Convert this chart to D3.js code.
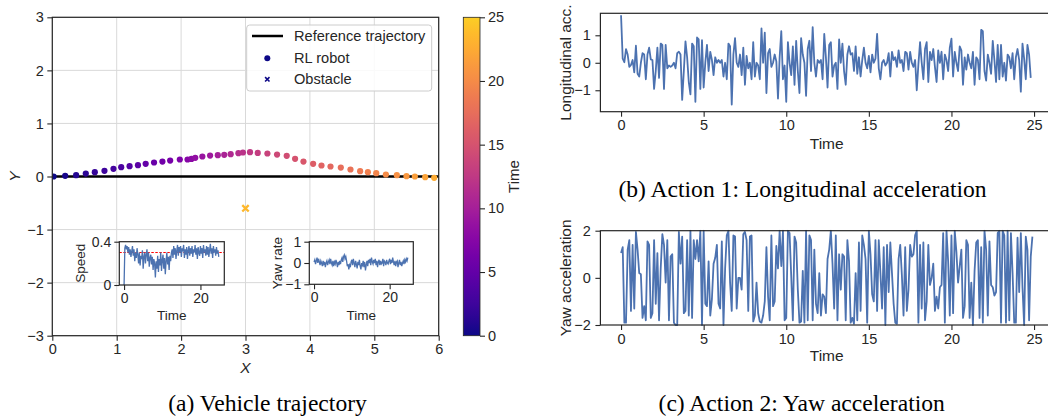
<!DOCTYPE html>
<html><head><meta charset="utf-8">
<script src="https://cdn.jsdelivr.net/npm/d3@7"></script>
<style>
body{margin:0;background:#fff}
svg{display:block}
text{font-family:"Liberation Sans",Arial,Helvetica,sans-serif;fill:#262626}
.cap{font-family:"Liberation Serif","Times New Roman",serif;fill:#000}
</style>
</head><body>
<svg id="c" width="1048" height="419"></svg>
<script>
// ---------------- data ----------------
const trajX = [0.02,0.20,0.37,0.52,0.66,0.81,0.95,1.07,1.20,1.33,1.45,1.58,1.71,1.83,1.98,2.10,2.16,2.22,2.33,2.45,2.57,2.67,2.77,2.89,2.96,3.07,3.19,3.34,3.49,3.64,3.77,3.90,4.05,4.18,4.32,4.48,4.63,4.78,4.90,5.03,5.18,5.35,5.50,5.63,5.79,5.93];
const trajY = [0.00,0.013,0.025,0.056,0.082,0.107,0.145,0.176,0.195,0.213,0.238,0.264,0.282,0.301,0.320,0.320,0.332,0.351,0.377,0.395,0.402,0.408,0.420,0.439,0.452,0.458,0.445,0.433,0.414,0.389,0.333,0.282,0.238,0.207,0.188,0.169,0.132,0.100,0.082,0.063,0.038,0.025,0.006,0.000,-0.013,-0.025];
const trajT = [0,0.5,1,1.5,2,2.5,3,3.5,4,4.5,5,5.5,6,6.5,7,7.5,8,8.5,9,9.5,10,10.5,11,11.5,12,12.5,13,13.5,14,14.5,15,15.5,16,16.5,17,17.5,18,18.5,19,19.5,20,20.5,21,21.5,22,22.5];
const refX = [0, 6];
const refY = [0, 0];
const obstacle = {x: 3.0, y: -0.6, t: 23.5};
const legendLabels = ["Reference trajectory", "RL robot", "Obstacle"];
const mainXTicks = [0,1,2,3,4,5,6];
const mainYTicks = [-3,-2,-1,0,1,2,3];
const cbarTicks = [0,5,10,15,20,25];

const speed = [0.0,0.34,0.37,0.33,0.36,0.3,0.35,0.28,0.33,0.26,
 0.31,0.36,0.27,0.33,0.22,0.3,0.25,0.34,0.28,0.2,
 0.3,0.18,0.27,0.24,0.32,0.15,0.26,0.3,0.2,0.28,
 0.33,0.22,0.3,0.17,0.25,0.28,0.19,0.26,0.14,0.24,
 0.2,0.07,0.22,0.15,0.27,0.12,0.24,0.18,0.3,0.13,
 0.23,0.28,0.15,0.25,0.1,0.22,0.3,0.19,0.26,0.14,
 0.27,0.22,0.3,0.33,0.25,0.36,0.28,0.34,0.24,0.32,
 0.37,0.27,0.35,0.3,0.36,0.26,0.34,0.31,0.37,0.25,
 0.33,0.28,0.35,0.24,0.32,0.36,0.27,0.34,0.29,0.36,
 0.26,0.33,0.3,0.37,0.28,0.34,0.24,0.35,0.3,0.27,
 0.36,0.29,0.34,0.25,0.37,0.3,0.33,0.27,0.36,0.28,
 0.35,0.26,0.32,0.38,0.29,0.34,0.25,0.36,0.3,0.33,
 0.27,0.35,0.29,0.32,0.26];
const speedRef = 0.3;
const yawRate = [0.05,0.15,-0.05,0.1,0.25,0.0,0.2,0.05,-0.1,0.1,
 0.0,-0.15,0.1,-0.05,0.05,-0.2,0.0,0.1,-0.1,0.05,
 0.15,-0.05,0.2,0.0,-0.1,0.1,-0.15,0.05,-0.05,0.15,
 0.0,-0.2,0.05,-0.1,0.1,-0.05,0.15,0.25,0.05,0.3,
 0.38,0.2,0.3,0.1,-0.15,-0.05,-0.3,-0.1,-0.2,0.05,
 0.15,-0.1,0.2,0.0,-0.2,0.1,-0.05,-0.25,0.05,-0.1,
 0.15,-0.15,-0.3,0.0,-0.1,0.1,-0.2,0.05,-0.35,-0.1,
 0.1,-0.15,0.15,0.0,0.2,-0.1,0.25,0.05,-0.05,0.15,
 0.0,0.2,-0.1,0.1,-0.2,0.05,0.15,-0.1,0.1,-0.05,
 0.0,0.2,-0.15,0.1,0.05,-0.1,0.15,0.0,-0.05,0.1,
 0.2,-0.05,0.15,0.0,0.25,0.05,-0.1,0.1,-0.15,0.05,
 0.1,-0.2,0.0,0.15,-0.1,0.05,-0.15,0.0,0.1,-0.05,
 0.15,0.05,0.2,0.1,0.25];
const insetDt = 0.2;

const lonAcc = [1.73,0.15,0.02,0.5,0.3,-0.15,-0.08,0.1,-0.35,0.62,
 -0.4,-0.5,0.0,0.35,0.3,-0.6,0.3,0.55,0.12,0.1,
 -0.95,-0.3,0.55,-0.55,0.7,0.65,-0.95,0.65,-0.2,-0.1,
 -0.15,-0.1,0.0,-0.2,0.35,0.4,0.3,-1.35,-0.3,0.78,
 0.2,-0.7,-1.15,0.7,0.6,-1.42,0.92,0.85,-0.95,0.82,
 -0.9,0.0,0.65,-0.3,0.4,0.1,-0.45,0.2,0.0,0.1,
 0.0,0.1,-0.5,0.0,-0.6,0.7,0.6,-1.52,0.3,0.9,
 0.0,-0.15,0.3,-0.45,0.55,-0.8,0.25,-0.2,0.0,-0.6,
 0.75,-0.5,0.0,-0.1,-0.6,1.25,0.0,1.1,-1.1,0.35,
 0.5,-0.15,0.0,0.3,0.05,-1.3,0.2,1.15,-0.6,-0.1,
 -1.42,0.75,0.0,-0.45,0.6,-0.8,0.8,-0.3,-1.1,0.9,
 0.3,0.0,-1.2,0.5,0.8,-0.3,1.3,0.0,-0.5,0.1,
 0.0,0.1,-0.6,1.05,0.2,-0.9,0.65,0.75,-0.5,-0.1,
 0.0,-0.95,0.85,0.0,0.7,-0.3,-0.8,0.3,0.6,0.3,
 0.35,-0.3,0.6,-0.4,0.2,-0.5,0.1,0.55,0.0,-0.2,
 0.25,-0.35,0.3,0.0,0.15,1.05,-0.2,-0.6,0.0,0.1,
 -0.1,0.0,0.35,-0.5,0.4,0.1,0.2,-0.15,0.45,0.0,
 0.1,-0.3,0.4,0.35,-0.25,0.4,0.0,-0.15,0.1,-1.0,
 -0.05,0.75,0.0,-0.6,0.5,0.75,-0.7,0.4,0.1,0.5,
 -0.15,-0.7,0.45,0.0,0.4,-0.6,0.3,0.1,-0.3,0.55,
 0.88,-0.5,0.4,0.0,-0.3,0.6,0.45,-0.8,0.2,-0.25,
 0.3,0.0,-0.2,0.4,-0.8,0.2,0.1,-0.6,1.2,1.15,
 -0.3,-0.65,0.3,0.0,-0.4,0.8,0.1,-0.7,0.65,-0.6,
 0.65,-0.5,0.0,-0.65,0.3,0.2,-0.2,0.35,-0.6,0.2,
 0.5,0.1,-1.05,0.7,0.15,-0.6,0.65,0.3,-0.55];
const yawAcc = [1.05,1.3,-1.9,-1.9,1.2,1.6,-1.4,1.4,-1.3,1.95,
 1.2,0.2,0.15,-1.7,-1.2,-1.8,1.55,1.4,-1.7,-1.5,
 1.6,-1.1,1.05,-1.8,0.4,1.85,1.4,-0.2,1.6,-1.8,
 0.9,1.0,-1.9,-2.0,-2.0,1.95,0.6,1.75,-1.5,-1.4,
 1.6,-1.6,2.0,-1.7,1.6,0.8,1.6,0.7,2.0,-2.0,
 2.0,-1.1,-1.2,0.7,-1.6,-0.9,0.6,0.85,1.4,-1.1,
 -1.3,1.55,-2.0,0.4,1.8,2.0,-0.2,-1.4,1.8,1.75,
 -1.3,0.0,0.0,-0.5,1.85,1.95,1.6,-1.4,1.75,1.8,
 -1.85,-1.6,-0.2,-1.5,-1.85,-1.9,-1.6,-1.0,1.3,-0.8,
 -1.8,1.8,-1.2,-1.0,1.35,0.4,2.0,0.5,2.0,-1.8,
 -1.7,2.0,1.9,0.1,-1.8,1.75,1.5,-0.5,-1.9,-1.85,
 0.3,-1.9,2.0,-1.8,1.8,1.6,-1.8,1.2,-1.1,-1.5,
 0.2,-1.6,-0.7,-0.8,-1.5,0.8,1.2,2.0,0.6,-1.3,
 1.8,-1.8,1.0,-0.5,1.0,0.9,-1.8,1.6,0.7,-1.9,
 -1.7,-1.95,0.2,-1.8,1.5,-1.4,1.8,1.4,0.8,-1.9,
 2.0,1.0,-0.7,-1.0,1.6,-1.4,1.6,0.2,-1.3,1.3,
 -2.0,1.4,-0.6,1.5,0.2,-1.1,-1.9,-1.95,0.8,1.4,
 0.1,-1.6,1.3,-1.4,-0.5,1.4,0.9,1.0,1.8,2.0,
 -1.9,1.4,-1.3,1.5,-1.8,-1.0,1.4,-0.3,0.0,0.6,
 -1.4,-0.8,-1.3,-0.4,-0.3,1.9,-1.9,2.0,0.7,-1.6,
 1.8,-1.5,2.0,1.1,-0.2,0.5,1.2,-1.7,-1.2,1.6,
 1.4,-1.7,-0.2,-2.0,0.3,1.5,1.6,-1.7,1.3,-1.9,
 2.0,1.2,-1.6,1.55,-0.3,-0.4,-0.75,-0.6,1.9,2.0,
 -1.9,2.0,1.8,-1.9,2.0,-1.8,1.9,0.2,-1.9,-1.9,
 1.7,-0.6,1.9,-0.4,-2.0,1.75,1.2,-1.8,0.9,1.75];
const actDt = 0.1;
const timeTicks = [0,5,10,15,20,25];

// ---------------- helpers ----------------
const svg = d3.select("#c");
const INK = "#262626";
const BLUE = "#4c72b0";
const cmap = t => d3.interpolatePlasma(0.9 * t / 25);

function styleAxis(g, fs) {
  g.select(".domain").remove();
  g.selectAll(".tick line").attr("stroke", INK).attr("stroke-width", 1.1);
  g.selectAll(".tick text").attr("fill", INK).style("font-size", fs + "px")
   .style("font-family", '"Liberation Sans",Arial,sans-serif');
}
function frame(x0, y0, x1, y1, w) {
  svg.append("rect").attr("x", x0).attr("y", y0).attr("width", x1 - x0).attr("height", y1 - y0)
    .attr("fill", "none").attr("stroke", INK).attr("stroke-width", w || 1.2);
}
function label(x, y, txt, fs, rot, italic) {
  const t = svg.append("text").attr("text-anchor", "middle").attr("dominant-baseline", "central")
    .style("font-size", fs + "px").text(txt);
  if (italic) t.style("font-style", "italic");
  if (rot) t.attr("transform", `translate(${x},${y}) rotate(${rot})`);
  else t.attr("x", x).attr("y", y);
  return t;
}

// ---------------- main plot ----------------
const M = {L: 52.3, R: 438.7, T: 17.3, B: 335.7};
const mx = d3.scaleLinear().domain([0, 6]).range([M.L, M.R]);
const my = d3.scaleLinear().domain([-3, 3]).range([M.B, M.T]);

svg.append("defs").append("clipPath").attr("id", "mclip").append("rect")
  .attr("x", M.L).attr("y", M.T).attr("width", M.R - M.L).attr("height", M.B - M.T);

const grid = svg.append("g");
mainXTicks.forEach(v => grid.append("line").attr("x1", mx(v)).attr("x2", mx(v)).attr("y1", M.T).attr("y2", M.B)
  .attr("stroke", "#d9d9d9").attr("stroke-width", 1));
mainYTicks.forEach(v => grid.append("line").attr("y1", my(v)).attr("y2", my(v)).attr("x1", M.L).attr("x2", M.R)
  .attr("stroke", "#d9d9d9").attr("stroke-width", 1));

const plotG = svg.append("g").attr("clip-path", "url(#mclip)");
plotG.append("path").datum(refX.map((x, i) => [x, refY[i]]))
  .attr("d", d3.line().x(d => mx(d[0])).y(d => my(d[1])))
  .attr("stroke", "#000").attr("stroke-width", 2.5).attr("fill", "none");
plotG.selectAll("circle.pt").data(trajX.map((x, i) => ({x, y: trajY[i], t: trajT[i]})))
  .join("circle").attr("class", "pt").attr("cx", d => mx(d.x)).attr("cy", d => my(d.y)).attr("r", 3.1)
  .attr("fill", d => cmap(d.t));
function xMark(g, cx, cy, s, col, w) {
  g.append("path").attr("d", `M${cx - s},${cy - s}L${cx + s},${cy + s}M${cx - s},${cy + s}L${cx + s},${cy - s}`)
    .attr("stroke", col).attr("stroke-width", w).attr("fill", "none");
}
xMark(plotG, mx(obstacle.x), my(obstacle.y), 3.2, cmap(obstacle.t), 2.3);

frame(M.L, M.T, M.R, M.B, 1.2);
const gx = svg.append("g").attr("transform", `translate(0,${M.B})`)
  .call(d3.axisBottom(mx).tickValues(mainXTicks).tickFormat(d3.format("d")).tickSize(5).tickPadding(3.5));
styleAxis(gx, 14.5);
const gy = svg.append("g").attr("transform", `translate(${M.L},0)`)
  .call(d3.axisLeft(my).tickValues(mainYTicks).tickFormat(d3.format("d")).tickSize(5).tickPadding(3.5));
styleAxis(gy, 14.5);
label(245.5, 367, "X", 15.5, 0, true);
label(14, 176.5, "Y", 15.5, -90, true);

// legend
svg.append("rect").attr("x", 246.7).attr("y", 25).attr("width", 185).attr("height", 66).attr("rx", 3)
  .attr("fill", "#fff").attr("fill-opacity", 0.85).attr("stroke", "#cccccc").attr("stroke-width", 1);
svg.append("line").attr("x1", 252).attr("x2", 283).attr("y1", 36).attr("y2", 36).attr("stroke", "#000").attr("stroke-width", 2.5);
svg.append("circle").attr("cx", 267.3).attr("cy", 58.3).attr("r", 3).attr("fill", cmap(0));
xMark(svg, 267.3, 79.3, 2.2, cmap(0), 1.6);
[36, 58, 79].forEach((y, i) => svg.append("text").attr("x", 294).attr("y", y).attr("dominant-baseline", "central")
  .style("font-size", "14.6px").text(legendLabels[i]));

// colorbar
const CB = {L: 463.3, R: 480, T: M.T, B: M.B};
const grad = svg.select("defs").append("linearGradient").attr("id", "cbg")
  .attr("x1", 0).attr("x2", 0).attr("y1", 1).attr("y2", 0);
d3.range(0, 1.0001, 0.05).forEach(f => grad.append("stop").attr("offset", f).attr("stop-color", cmap(f * 25)));
svg.append("rect").attr("x", CB.L).attr("y", CB.T).attr("width", CB.R - CB.L).attr("height", CB.B - CB.T)
  .attr("fill", "url(#cbg)").attr("stroke", INK).attr("stroke-width", 0.8);
const cy = d3.scaleLinear().domain([0, 25]).range([CB.B, CB.T]);
const gcb = svg.append("g").attr("transform", `translate(${CB.R},0)`)
  .call(d3.axisRight(cy).tickValues(cbarTicks).tickSize(5).tickPadding(3));
styleAxis(gcb, 14.5);
label(513, 176.5, "Time", 15, -90);

// insets
function inset(box, ydom, yt, data, lbl, lblX, ref) {
  svg.append("rect").attr("x", box.L).attr("y", box.T).attr("width", box.R - box.L).attr("height", box.B - box.T).attr("fill", "#fff");
  const ix = d3.scaleLinear().domain([-1.25, 26.25]).range([box.L, box.R]);
  const iy = d3.scaleLinear().domain(ydom).range([box.B, box.T]);
  if (ref !== undefined) {
    svg.append("line").attr("x1", box.L).attr("x2", box.R).attr("y1", iy(ref)).attr("y2", iy(ref))
      .attr("stroke", "#ff0000").attr("stroke-width", 1).attr("stroke-dasharray", "2.5,1.5");
  }
  svg.append("path").datum(data).attr("fill", "none").attr("stroke", BLUE).attr("stroke-width", 1.3)
    .attr("d", d3.line().x((d, i) => ix(i * insetDt)).y(d => iy(d)));
  frame(box.L, box.T, box.R, box.B, 1.2);
  const ax = svg.append("g").attr("transform", `translate(0,${box.B})`)
    .call(d3.axisBottom(ix).tickValues([0, 20]).tickSize(5).tickPadding(3));
  styleAxis(ax, 14);
  const ay = svg.append("g").attr("transform", `translate(${box.L},0)`)
    .call(d3.axisLeft(iy).tickValues(yt).tickFormat(d => d === 0.4 ? "0.4" : d3.format("d")(d)).tickSize(5).tickPadding(3));
  styleAxis(ay, 14);
  label((box.L + box.R) / 2, 315, "Time", 13.5);
  label(lblX, (box.T + box.B) / 2, lbl, 13.5, -90);
}
inset({L: 119.3, R: 224.3, T: 241.7, B: 285}, [0, 0.4], [0, 0.4], speed, "Speed", 80, speedRef);
inset({L: 309.3, R: 413.3, T: 241.7, B: 284.3}, [-1, 1], [-1, 0, 1], yawRate, "Yaw rate", 277);

// ---------------- right plots ----------------
function actPlot(box, ydom, yt, data, lbl, timeY) {
  const ax = d3.scaleLinear().domain([-1.25, 26.25]).range([box.L, box.R]);
  const ay = d3.scaleLinear().domain(ydom).range([box.B, box.T]);
  const id = "cl" + Math.round(box.T);
  svg.select("defs").append("clipPath").attr("id", id).append("rect")
    .attr("x", box.L).attr("y", box.T - 1).attr("width", box.R - box.L).attr("height", box.B - box.T + 2);
  svg.append("path").datum(data).attr("clip-path", `url(#${id})`).attr("fill", "none").attr("stroke", BLUE)
    .attr("stroke-width", 1.8).attr("stroke-linejoin", "round")
    .attr("d", d3.line().x((d, i) => ax(i * actDt)).y(d => ay(d)));
  frame(box.L, box.T, box.R, box.B, 1.2);
  const gxa = svg.append("g").attr("transform", `translate(0,${box.B})`)
    .call(d3.axisBottom(ax).tickValues(timeTicks).tickSize(5).tickPadding(3.5));
  styleAxis(gxa, 14.5);
  const gya = svg.append("g").attr("transform", `translate(${box.L},0)`)
    .call(d3.axisLeft(ay).tickValues(yt).tickFormat(d3.format("d")).tickSize(5).tickPadding(4.5));
  styleAxis(gya, 14.5);
  label(826.7, timeY, "Time", 15.5);
  label(565, (box.T + box.B) / 2, lbl, 15.5, -90);
}
actPlot({L: 600.4, R: 1054.7, T: 13.3, B: 111.7}, [-1.78, 1.80], [-1, 0, 1], lonAcc, "Longitudinal acc.", 143);
actPlot({L: 600.4, R: 1054.7, T: 230.7, B: 325}, [-2, 2], [-2, 0, 2], yawAcc, "Yaw acceleration", 355.7);

// captions
svg.append("text").attr("class", "cap").attr("x", 267.5).attr("y", 411).attr("text-anchor", "middle")
  .style("font-size", "23.6px").text("(a) Vehicle trajectory");
svg.append("text").attr("class", "cap").attr("x", 802.5).attr("y", 197).attr("text-anchor", "middle")
  .style("font-size", "23.6px").text("(b) Action 1: Longitudinal acceleration");
svg.append("text").attr("class", "cap").attr("x", 801.7).attr("y", 411).attr("text-anchor", "middle")
  .style("font-size", "23.6px").text("(c) Action 2: Yaw acceleration");
</script>
</body></html>
